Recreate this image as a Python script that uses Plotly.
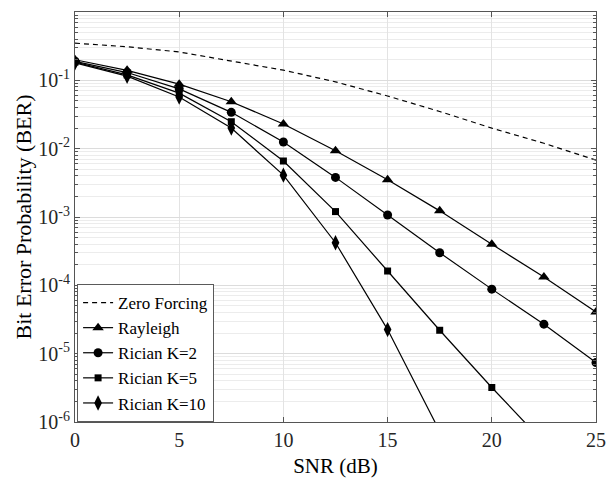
import plotly.graph_objects as go

snr = [0, 2.5, 5, 7.5, 10, 12.5, 15, 17.5, 20, 22.5, 25]
zero_forcing = [0.35, 0.31, 0.26, 0.19, 0.141, 0.095, 0.059, 0.035, 0.02, 0.012, 0.0068]
rayleigh = [0.2, 0.14, 0.088, 0.0486, 0.023, 0.0093, 0.0035, 0.00123, 0.0004, 0.000132, 4.07e-5]
rician_k2 = [0.19, 0.13, 0.075, 0.034, 0.0125, 0.0038, 0.00107, 0.0003, 8.8e-5, 2.7e-5, 7.4e-6]
rician_k5 = [0.185, 0.12, 0.065, 0.0248, 0.0066, 0.0012, 0.000162, 2.2e-5, 3.2e-6, 5e-7]
rician_k10 = [0.18, 0.115, 0.057, 0.02, 0.0041, 0.00042, 2.25e-5, 7.3e-7]

y_exps = [-6, -5, -4, -3, -2, -1, 0]
y_ticktext = ["10<sup>%d</sup>" % e for e in y_exps]
x_ticks = [0, 5, 10, 15, 20, 25]

FONT = "Liberation Serif"

fig = go.Figure()
fig.add_trace(go.Scatter(x=snr, y=zero_forcing, mode="lines", name="Zero Forcing",
                         line=dict(color="black", width=1.2, dash="5px,4px")))
series = [("Rayleigh", rayleigh, "triangle-up", 10),
          ("Rician K=2", rician_k2, "circle", 9),
          ("Rician K=5", rician_k5, "square", 7),
          ("Rician K=10", rician_k10, "diamond-tall", 11)]
for name, vals, sym, sz in series:
    fig.add_trace(go.Scatter(x=snr[:len(vals)], y=vals, mode="lines+markers", name=name,
                             line=dict(color="black", width=1.2),
                             marker=dict(symbol=sym, size=sz, color="black")))

minor_vals = [k * 10.0 ** e for e in y_exps[:-1] for k in range(2, 10)]

fig.update_layout(
    width=606, height=482,
    margin=dict(l=75, r=10, t=12, b=60),
    paper_bgcolor="white", plot_bgcolor="white",
    font=dict(family=FONT, size=20, color="#262626"),
    showlegend=True,
    legend=dict(x=0.004, y=0.0, xanchor="left", yanchor="bottom",
                bgcolor="white", bordercolor="#5a5a5a", borderwidth=1,
                font=dict(family=FONT, size=17, color="black"),
                tracegroupgap=0, itemwidth=30),
)
fig.update_xaxes(range=[0, 25], tickvals=x_ticks, ticktext=[str(v) for v in x_ticks],
                 automargin=False,
                 showgrid=True, gridcolor="#e3e3e3", gridwidth=1,
                 showline=True, linecolor="#555555", linewidth=1, mirror="ticks",
                 ticks="inside", ticklen=5, tickcolor="#555555",
                 zeroline=False, title=dict(text="SNR (dB)", standoff=8,
                                            font=dict(family=FONT, size=21, color="black")),
                 tickfont=dict(family=FONT, size=20, color="#262626"))
fig.update_yaxes(type="log", range=[-6, 0], automargin=False,
                 tickvals=[10.0 ** e for e in y_exps], ticktext=y_ticktext,
                 showgrid=True, gridcolor="#dcdcdc", gridwidth=1,
                 minor=dict(tickmode="array", tickvals=minor_vals, showgrid=True,
                            gridcolor="#ececec", ticks="inside", ticklen=3, tickcolor="#555555"),
                 showline=True, linecolor="#555555", linewidth=1, mirror="ticks",
                 ticks="inside", ticklen=5, tickcolor="#555555",
                 zeroline=False,
                 title=dict(text="Bit Error Probability (BER)", standoff=0,
                            font=dict(family=FONT, size=22, color="black")),
                 tickfont=dict(family=FONT, size=20, color="#262626"))

# remove the default 8px page margin so the figure fills the window exactly
fig.write_html("out.html", config={"displayModeBar": False},
               post_script="document.body.style.margin='0';")
